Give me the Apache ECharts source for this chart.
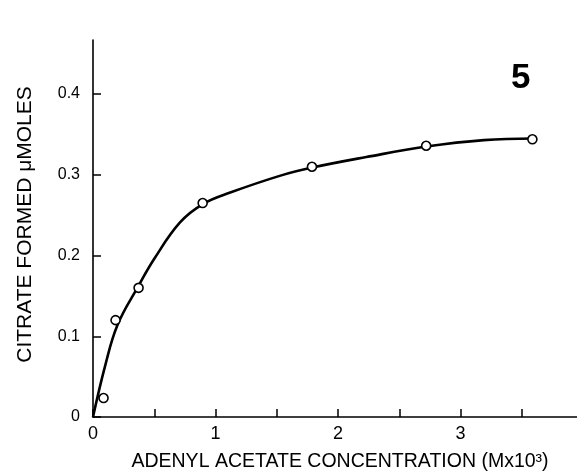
<!DOCTYPE html>
<html>
<head>
<meta charset="utf-8">
<script src="https://cdn.jsdelivr.net/npm/echarts@6/dist/echarts.min.js"></script>
<style>
html,body{margin:0;padding:0;background:#fff;}
#c{width:577px;height:472px;}
</style>
</head>
<body>
<div id="c"></div>
<script>
// Measured points (open circles)
const pointX = [0.086, 0.184, 0.372, 0.895, 1.787, 2.719, 3.586];
const pointY = [0.0235, 0.120, 0.160, 0.265, 0.310, 0.336, 0.344];
// Hand-drawn curve, read along its path
const curveX = [0, 0.1, 0.2, 0.37, 0.5, 0.71, 0.9, 1.12, 1.53, 1.79, 2.23, 2.72, 3.19, 3.6];
const curveY = [0, 0.064, 0.114, 0.162, 0.196, 0.241, 0.264, 0.278, 0.299, 0.309, 0.322, 0.335, 0.343, 0.345];
// Tick labels
const xTickLabels = [0, 1, 2, 3];
const xTickMarks = [0, 0.5, 1, 1.5, 2, 2.5, 3, 3.5];
const yTickLabels = [0, 0.1, 0.2, 0.3, 0.4];
const panelLabel = '5';
const xTitle = 'ADENYL ACETATE CONCENTRATION (Mx10\u00B3)';
const yTitle = 'CITRATE FORMED \u03BCMOLES';

const FONT = 'Liberation Sans';
const chart = echarts.init(document.getElementById('c'), null, {renderer: 'canvas'});
chart.setOption({
  backgroundColor: '#fff',
  animation: false,
  grid: {left: 93, top: 40, right: 0, bottom: 55, containLabel: false, outerBoundsMode: 'none'},
  xAxis: {
    type: 'value', min: 0, max: 3.95, interval: 0.5,
    name: xTitle, nameLocation: 'middle', nameGap: 35,
    nameTextStyle: {fontFamily: FONT, fontSize: 19.5, color: '#000', padding: [0, 0, 0, 10]},
    axisLine: {show: true, onZero: false, lineStyle: {color: '#000', width: 1.6}},
    axisTick: {show: true, inside: true, length: 8, customValues: xTickMarks, lineStyle: {color: '#000', width: 1.5}},
    axisLabel: {show: true, customValues: xTickLabels, margin: 8, fontFamily: FONT, fontSize: 18, color: '#000',
      formatter: v => (Math.abs(v - Math.round(v)) < 1e-6 && v <= 3) ? String(Math.round(v)) : ''},
    splitLine: {show: false}
  },
  yAxis: {
    type: 'value', min: 0, max: 0.467, interval: 0.1,
    name: yTitle, nameLocation: 'middle', nameGap: 57, nameRotate: 90,
    nameTextStyle: {fontFamily: FONT, fontSize: 21, color: '#000', padding: [0, 0, 0, 8]},
    axisLine: {show: true, onZero: false, lineStyle: {color: '#000', width: 1.6}},
    axisTick: {show: true, inside: true, length: 8, customValues: yTickLabels, lineStyle: {color: '#000', width: 1.5}},
    axisLabel: {show: true, customValues: yTickLabels, margin: 13, fontFamily: FONT, fontSize: 16, color: '#000',
      formatter: v => v === 0 ? '0' : (v <= 0.4001 ? v.toFixed(1) : '')},
    splitLine: {show: false}
  },
  graphic: [{
    type: 'text', left: 511, top: 61,
    style: {text: panelLabel, fontFamily: FONT, fontWeight: 'bold', fontSize: 35, fill: '#000'}
  }],
  series: [
    {
      type: 'line', data: curveX.map((x, i) => [x, curveY[i]]),
      smooth: 0.4, showSymbol: false, symbol: 'none',
      lineStyle: {color: '#000', width: 2.6}, z: 2
    },
    {
      type: 'scatter', data: pointX.map((x, i) => [x, pointY[i]]),
      symbol: 'circle', symbolSize: 9,
      itemStyle: {color: '#fff', borderColor: '#000', borderWidth: 1.6, opacity: 1}, z: 3
    }
  ]
});
</script>
</body>
</html>
